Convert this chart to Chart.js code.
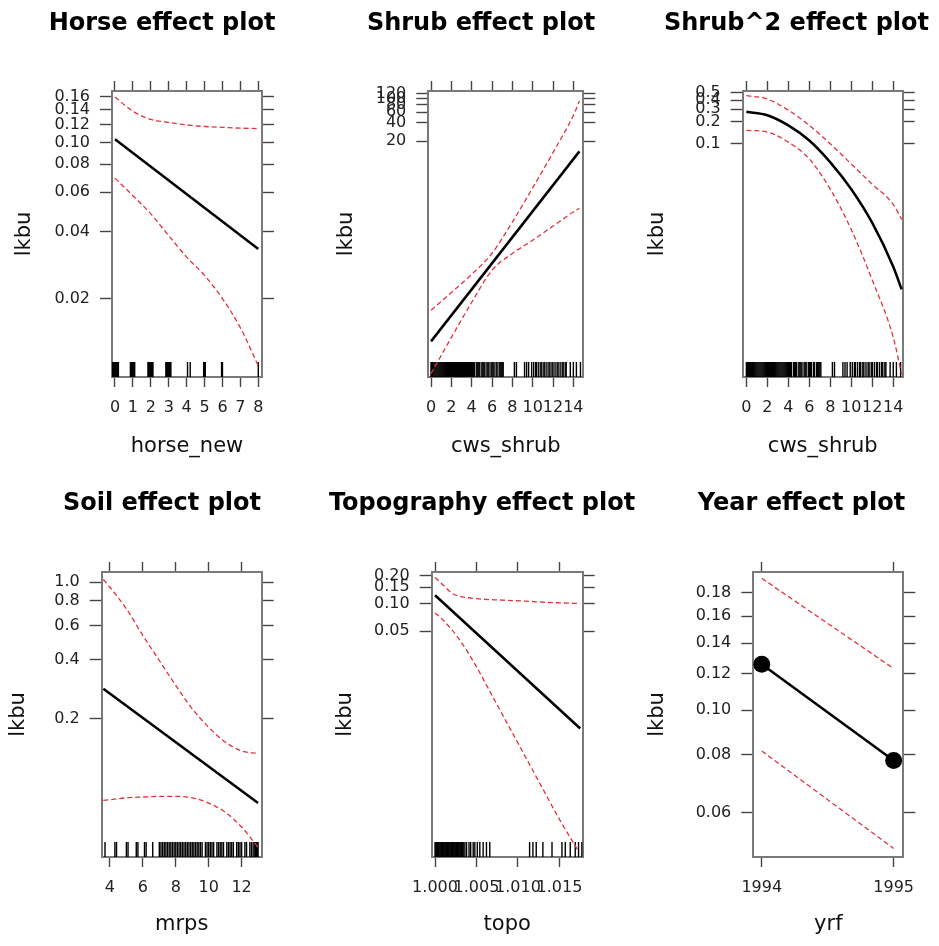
<!DOCTYPE html>
<html>
<head>
<meta charset="utf-8">
<script src="https://cdn.jsdelivr.net/npm/chart.js@4.4.1/dist/chart.umd.min.js"></script>
<style>
    html, body { margin: 0; padding: 0; background: #fff; overflow: hidden; width: 939px; height: 946px; }
    canvas { position: absolute; }
</style>
</head>
<body>
<canvas id="horseChart"></canvas>
<canvas id="shrubChart"></canvas>
<canvas id="shrub2Chart"></canvas>
<canvas id="soilChart"></canvas>
<canvas id="topoChart"></canvas>
<canvas id="yearChart"></canvas>
<script>
// ---- Horse effect (horse_new) ----
const horseX = [0, 1, 2, 3, 4, 5, 6, 7, 8];
const horseFitX = [0, 8];
const horseFit = [0.1035, 0.0334];
const horseUpper = [0.160, 0.138, 0.127, 0.123, 0.120, 0.118, 0.117, 0.116, 0.1155];
const horseLower = [0.0693, 0.0578, 0.0479, 0.0383, 0.0307, 0.0254, 0.0200, 0.0148, 0.0100];
const horseRug = [-0.17, -0.13, -0.09, -0.05, -0.01, 0.03, 0.07, 0.11, 0.15, 0.19,
    0.86, 0.9, 0.94, 0.98, 1.02, 1.06, 1.1, 1.84, 1.88, 1.92, 1.96, 2.0, 2.04, 2.08, 2.12,
    2.84, 2.88, 2.92, 2.96, 3.0, 3.04, 3.08, 3.12, 4.05, 4.2, 4.95, 5.0, 5.04, 5.95, 6.0, 8.0];
const horseYTicks = [0.02, 0.04, 0.06, 0.08, 0.10, 0.12, 0.14, 0.16];
const horseYLabels = ["0.02", "0.04", "0.06", "0.08", "0.10", "0.12", "0.14", "0.16"];
const horseXTicks = [0, 1, 2, 3, 4, 5, 6, 7, 8];

// ---- Shrub effect (cws_shrub) ----
const shrubX = [0, 2, 4, 6, 8, 10, 12, 14, 14.6];
const shrubFitX = [0, 14.6];
const shrubFit = [0.011, 13.7];
const shrubUpper = [0.0353, 0.0688, 0.136, 0.300, 0.967, 3.49, 13.1, 52.8, 90.5];
const shrubLower = [0.00328, 0.01275, 0.0477, 0.158, 0.297, 0.490, 0.831, 1.41, 1.62];
const shrubYTicks = [20, 40, 60, 80, 100, 120];
const shrubYLabels = ["20", "40", "60", "80", "100", "120"];
const shrubXTicks = [0, 2, 4, 6, 8, 10, 12, 14];
const shrubRug = [0, 0.05, 0.1, 0.15, 0.2, 0.3, 0.4, 0.5, 0.6, 0.7, 0.8, 0.9, 1.0, 1.1, 1.2, 1.3, 1.4, 1.5,
    1.6, 1.7, 1.8, 1.9, 2.0, 2.1, 2.2, 2.3, 2.4, 2.5, 2.6, 2.7, 2.8, 2.9, 3.0, 3.1, 3.2, 3.3, 3.4, 3.5,
    3.6, 3.7, 3.8, 3.9, 4.0, 4.1, 4.2, 4.3, 4.5, 4.6, 4.7, 4.8, 5.0, 5.1, 5.2, 5.3, 5.5, 5.6, 5.7, 5.9,
    6.0, 6.1, 6.2, 6.4, 6.5, 6.7, 6.8, 6.9, 7.0, 7.1, 8.2, 8.4, 9.2, 9.4, 9.6, 9.9, 10.1, 10.3, 10.4,
    10.6, 10.8, 10.9, 11.1, 11.2, 11.4, 11.6, 11.7, 11.9, 12.0, 12.2, 12.4, 12.5, 12.7, 12.9, 13.0,
    13.2, 13.3, 13.7, 14.0, 14.3, 14.7];

// ---- Shrub^2 effect (cws_shrub) ----
const shrub2X = [0, 2, 4, 6, 8, 10, 12, 14, 14.8];
const shrub2Fit = [0.275, 0.247, 0.179, 0.111, 0.0557, 0.0238, 0.00819, 0.00205, 0.00100];
const shrub2Upper = [0.459, 0.412, 0.290, 0.179, 0.100, 0.0528, 0.0278, 0.0147, 0.0091];
const shrub2Lower = [0.153, 0.145, 0.1055, 0.0619, 0.0238, 0.00661, 0.00134, 0.000219, 0.000068];
const shrub2YTicks = [0.1, 0.2, 0.3, 0.4, 0.5];
const shrub2YLabels = ["0.1", "0.2", "0.3", "0.4", "0.5"];

// ---- Soil effect (mrps) ----
const soilX = [3.6, 4, 5, 6, 7, 8, 9, 10, 11, 12, 13];
const soilFitX = [3.6, 13.0];
const soilFit = [0.285, 0.0741];
const soilUpper = [1.03, 0.94, 0.730, 0.533, 0.397, 0.296, 0.225, 0.181, 0.152, 0.137, 0.133];
const soilLower = [0.0765, 0.0771, 0.0789, 0.0796, 0.0802, 0.0802, 0.0789, 0.0741, 0.0667, 0.0559, 0.0441];
const soilYTicks = [0.2, 0.4, 0.6, 0.8, 1.0];
const soilYLabels = ["0.2", "0.4", "0.6", "0.8", "1.0"];
const soilXTicks = [4, 6, 8, 10, 12];
const soilRug = [3.7, 4.3, 4.4, 5.0, 5.1, 5.6, 5.7, 6.1, 6.2, 6.6, 7.0, 7.1, 7.2, 7.3, 7.4, 7.5, 7.6, 7.7,
    7.8, 7.9, 8.0, 8.1, 8.2, 8.3, 8.4, 8.5, 8.6, 8.7, 8.8, 8.9, 9.0, 9.1, 9.2, 9.3, 9.4, 9.5, 9.6, 9.8,
    9.9, 10.0, 10.1, 10.2, 10.3, 10.5, 10.6, 10.7, 10.8, 10.9, 11.1, 11.2, 11.3, 11.4, 11.5, 11.7, 11.8,
    11.9, 12.0, 12.2, 12.3, 12.5, 12.6, 12.7, 12.8, 12.85, 12.9, 12.95, 13.0];

// ---- Topography effect (topo) ----
const topoFitX = [1.000, 1.0175];
const topoFit = [0.123, 0.0044];
const topoUpperX = [1.000, 1.001, 1.002, 1.003, 1.005, 1.008, 1.011, 1.014, 1.0175];
const topoUpper = [0.192, 0.158, 0.130, 0.120, 0.113, 0.109, 0.106, 0.1025, 0.100];
const topoLowerX = [1.000, 1.001, 1.003, 1.005, 1.007, 1.009, 1.011, 1.013, 1.015, 1.0172];
const topoLower = [0.079, 0.0658, 0.040, 0.0205, 0.00956, 0.00446, 0.00208, 0.00097, 0.000453, 0.000211];
const topoYTicks = [0.05, 0.10, 0.15, 0.20];
const topoYLabels = ["0.05", "0.10", "0.15", "0.20"];
const topoXTicks = [1.000, 1.005, 1.010, 1.015];
const topoXLabels = ["1.000", "1.005", "1.010", "1.015"];
const topoRug = [1.0000, 1.0001, 1.0002, 1.0003, 1.0004, 1.0005, 1.0006, 1.0007, 1.0008, 1.0009, 1.0010,
    1.0011, 1.0012, 1.0013, 1.0014, 1.0015, 1.0016, 1.0017, 1.0018, 1.0019, 1.0020, 1.0021, 1.0022,
    1.0023, 1.0024, 1.0025, 1.0026, 1.0027, 1.0028, 1.0029, 1.0030, 1.0031, 1.0032, 1.0033, 1.0034,
    1.0036, 1.0038, 1.0041, 1.0043, 1.0046, 1.0048, 1.0051, 1.0054, 1.0058, 1.0062, 1.0066, 1.0114,
    1.0118, 1.0122, 1.0130, 1.0141, 1.0153, 1.0157, 1.0163, 1.0169, 1.0173, 1.0177];

// ---- Year effect (yrf) ----
const yearX = [1994, 1995];
const yearFit = [0.1259, 0.0778];
const yearUpper = [0.1935, 0.1232];
const yearLower = [0.0816, 0.0501];
const yearYTicks = [0.06, 0.08, 0.10, 0.12, 0.14, 0.16, 0.18];
const yearYLabels = ["0.06", "0.08", "0.10", "0.12", "0.14", "0.16", "0.18"];
const yearXTicks = [1994, 1995];
const yearXLabels = ["1994", "1995"];

const FONT = "'DejaVu Sans', sans-serif";
const RED = "#e3323c";

function pts(xs, ys) {
    return xs.map((x, i) => ({ x: x, y: ys[i] }));
}

// rug marks along the bottom of the panel
const rugPlugin = {
    id: "rug",
    beforeDatasetsDraw(chart, args, opts) {
        if (!opts.values) return;
        const { ctx, chartArea } = chart;
        const xs = chart.scales.x;
        ctx.save();
        ctx.beginPath();
        ctx.rect(chartArea.left, chartArea.top, chartArea.width, chartArea.height);
        ctx.clip();
        ctx.strokeStyle = "#000";
        ctx.lineWidth = 1.4;
        opts.values.forEach((v) => {
            const px = xs.getPixelForValue(v);
            ctx.beginPath();
            ctx.moveTo(px, chartArea.bottom);
            ctx.lineTo(px, chartArea.bottom - opts.len);
            ctx.stroke();
        });
        ctx.restore();
    },
};

function setTicks(values) {
    return function (scale) {
        scale.ticks = values.map((v) => ({ value: v }));
    };
}

function axis(opts) {
    return Object.assign({
        bounds: "data",
        border: { display: true, color: "#7a7a7a", width: 2 },
    }, opts);
}

function makePanel(p) {
    const el = document.getElementById(p.id);
    const g = p.geo;
    el.width = g.cw;
    el.height = g.ch;
    el.style.left = g.cx + "px";
    el.style.top = g.cy + "px";

    const titleH = 9.1 + 28.8;
    const yW = g.L - g.cx;
    const y2W = g.cx + g.cw - g.R;
    const x2H = g.T - g.cy - titleH;
    const xH = g.cy + g.ch - g.B;
    const tickFont = { family: FONT, size: 16 };
    const labFont = { family: FONT, size: 21 };
    const xGrid = { drawOnChartArea: false, tickLength: 10, tickColor: "#444", tickWidth: 1.4 };
    const yGrid = { drawOnChartArea: false, tickLength: 12, tickColor: "#444", tickWidth: 1.4 };

    const datasets = [
        {
            data: pts(p.fitX, p.fit),
            borderColor: "#000",
            borderWidth: 2.5,
            pointRadius: p.points ? 8.5 : 0,
            pointBackgroundColor: "#000",
            pointBorderWidth: 0,
            cubicInterpolationMode: "monotone",
            clip: 12,
        },
        {
            data: pts(p.upX, p.upper),
            borderColor: RED,
            borderWidth: 1.3,
            borderDash: [5, 3],
            pointRadius: 0,
            cubicInterpolationMode: "monotone",
        },
        {
            data: pts(p.loX, p.lower),
            borderColor: RED,
            borderWidth: 1.3,
            borderDash: [5, 3],
            pointRadius: 0,
            cubicInterpolationMode: "monotone",
        },
    ];

    const xLabel = (v, i) => (p.xLabels ? p.xLabels[i] : String(p.xTicks[i]));

    new Chart(el, {
        type: "line",
        data: { datasets: datasets },
        plugins: [rugPlugin],
        options: {
            responsive: false,
            animation: false,
            devicePixelRatio: 1,
            layout: { padding: 0 },
            plugins: {
                legend: { display: false },
                tooltip: { enabled: false },
                title: {
                    display: true,
                    text: p.title,
                    color: "#000",
                    font: { family: FONT, size: 24, weight: "bold" },
                    padding: { top: 9.1, bottom: 0 },
                },
                rug: { values: p.rug, len: 15 },
            },
            scales: {
                x: axis({
                    type: "linear",
                    position: "bottom",
                    min: p.xMin,
                    max: p.xMax,
                    afterBuildTicks: setTicks(p.xTicks),
                    afterFit: (s) => { s.height = xH; },
                    grid: xGrid,
                    ticks: { autoSkip: false, maxRotation: 0, minRotation: 0, padding: 11, color: "#222", font: tickFont, callback: xLabel },
                    title: { display: true, text: p.xTitle, color: "#111", font: labFont, padding: { top: 0, bottom: g.xtPad } },
                }),
                x2: axis({
                    type: "linear",
                    position: "top",
                    min: p.xMin,
                    max: p.xMax,
                    afterBuildTicks: setTicks(p.xTicks),
                    afterFit: (s) => { s.height = x2H; },
                    grid: xGrid,
                    ticks: { display: false },
                }),
                y: axis({
                    type: "logarithmic",
                    position: "left",
                    min: p.yMin,
                    max: p.yMax,
                    afterBuildTicks: setTicks(p.yTicks),
                    afterFit: (s) => { s.width = yW; },
                    grid: yGrid,
                    ticks: { autoSkip: false, padding: 10, color: "#222", font: tickFont, callback: (v, i) => p.yLabels[i] },
                    title: { display: true, text: "lkbu", color: "#111", font: labFont, padding: { top: g.ytPad, bottom: 0 } },
                }),
                y2: axis({
                    type: "logarithmic",
                    position: "right",
                    min: p.yMin,
                    max: p.yMax,
                    afterBuildTicks: setTicks(p.yTicks),
                    afterFit: (s) => { s.width = y2W; },
                    grid: yGrid,
                    ticks: { display: false },
                }),
            },
        },
    });
}

document.addEventListener("DOMContentLoaded", function () {
    if (typeof Chart === "undefined") {
        console.error("Chart.js is not loaded");
        return;
    }

    makePanel({
        id: "horseChart", title: "Horse effect plot", xTitle: "horse_new",
        fitX: horseFitX, fit: horseFit, upX: horseX, upper: horseUpper, loX: horseX, lower: horseLower,
        rug: horseRug, xTicks: horseXTicks, yTicks: horseYTicks, yLabels: horseYLabels,
        xMin: -0.167, xMax: 8.207, yMin: 0.00891, yMax: 0.1702,
        geo: { cx: 0, cy: 0, cw: 324, ch: 473, L: 112, R: 262, T: 91, B: 377, ytPad: 12.4, xtPad: 13.4 },
    });
    makePanel({
        id: "shrubChart", title: "Shrub effect plot", xTitle: "cws_shrub",
        fitX: shrubFitX, fit: shrubFit, upX: shrubX, upper: shrubUpper, loX: shrubX, lower: shrubLower,
        rug: shrubRug, xTicks: shrubXTicks, yTicks: shrubYTicks, yLabels: shrubYLabels,
        xMin: -0.27, xMax: 14.98, yMin: 0.00289, yMax: 132,
        geo: { cx: 320, cy: 0, cw: 322, ch: 473, L: 428.3, R: 583.3, T: 91, B: 377, ytPad: 14.1, xtPad: 13.4 },
    });
    makePanel({
        id: "shrub2Chart", title: "Shrub^2 effect plot", xTitle: "cws_shrub",
        fitX: shrub2X, fit: shrub2Fit, upX: shrub2X, upper: shrub2Upper, loX: shrub2X, lower: shrub2Lower,
        rug: shrubRug, xTicks: shrubXTicks, yTicks: shrub2YTicks, yLabels: shrub2YLabels,
        xMin: -0.35, xMax: 14.9, yMin: 0.0000624, yMax: 0.532,
        geo: { cx: 640, cy: 0, cw: 313, ch: 473, L: 742.7, R: 902.7, T: 91, B: 377, ytPad: 5.4, xtPad: 13.4 },
    });
    makePanel({
        id: "soilChart", title: "Soil effect plot", xTitle: "mrps",
        fitX: soilFitX, fit: soilFit, upX: soilX, upper: soilUpper, loX: soilX, lower: soilLower,
        rug: soilRug, xTicks: soilXTicks, yTicks: soilYTicks, yLabels: soilYLabels,
        xMin: 3.5, xMax: 13.22, yMin: 0.0393, yMax: 1.125,
        geo: { cx: 0, cy: 480, cw: 324, ch: 466, L: 101.7, R: 261.7, T: 572, B: 857, ytPad: 6.4, xtPad: 8.4 },
    });
    makePanel({
        id: "topoChart", title: "Topography effect plot", xTitle: "topo",
        fitX: topoFitX, fit: topoFit, upX: topoUpperX, upper: topoUpper, loX: topoLowerX, lower: topoLower,
        rug: topoRug, xTicks: topoXTicks, xLabels: topoXLabels, yTicks: topoYTicks, yLabels: topoYLabels,
        xMin: 0.9996, xMax: 1.0178, yMin: 0.000177, yMax: 0.220,
        geo: { cx: 320, cy: 480, cw: 324, ch: 466, L: 431.7, R: 582.7, T: 572, B: 857, ytPad: 13.4, xtPad: 8.4 },
    });
    makePanel({
        id: "yearChart", title: "Year effect plot", xTitle: "yrf", points: true,
        fitX: yearX, fit: yearFit, upX: yearX, upper: yearUpper, loX: yearX, lower: yearLower,
        rug: null, xTicks: yearXTicks, xLabels: yearXLabels, yTicks: yearYTicks, yLabels: yearYLabels,
        xMin: 1993.936, xMax: 1995.073, yMin: 0.048, yMax: 0.1997,
        geo: { cx: 640, cy: 480, cw: 323, ch: 466, L: 753.3, R: 903.3, T: 572, B: 857, ytPad: 5.4, xtPad: 8.4 },
    });
});
</script>
</body>
</html>
